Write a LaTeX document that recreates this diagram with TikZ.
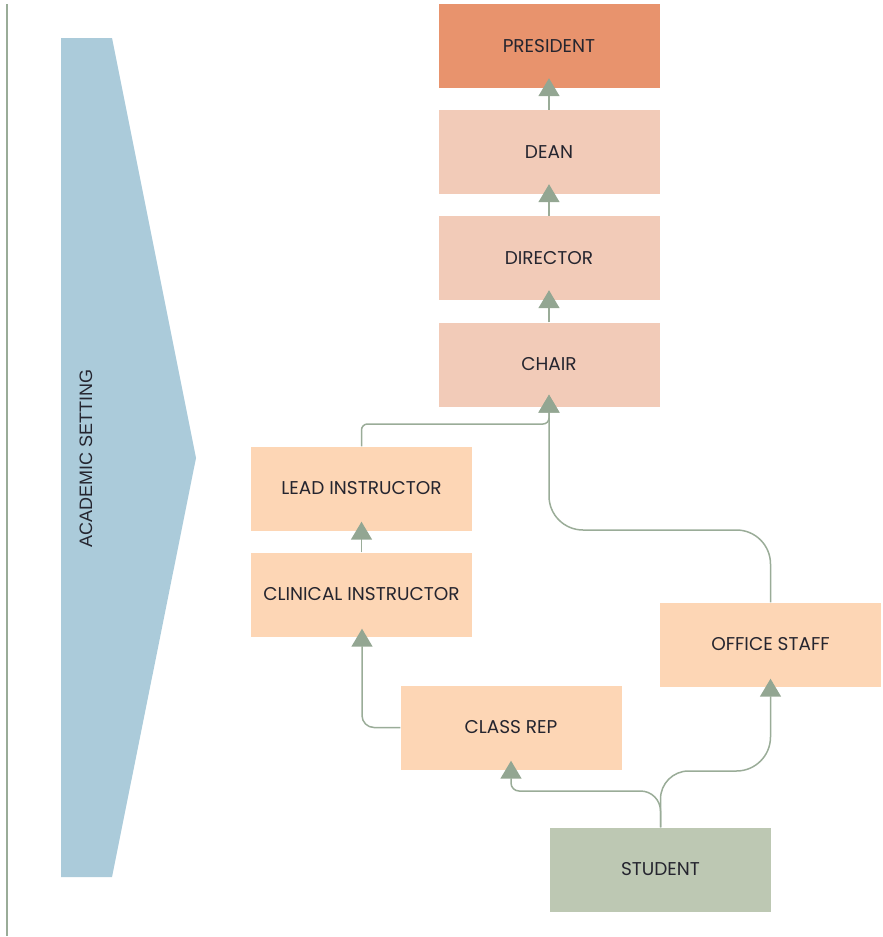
\documentclass[tikz,border=0pt]{standalone}
\usepackage{fontspec}
\setmainfont{Poppins}
\newfontfamily\labelfont{Liberation Sans}
\usetikzlibrary{arrows.meta}

\definecolor{presfill}{HTML}{E8936D}
\definecolor{adminfill}{HTML}{F2CBB8}
\definecolor{stafffill}{HTML}{FDD6B5}
\definecolor{studfill}{HTML}{BDC8B3}
\definecolor{linkcol}{HTML}{9AAC98}
\definecolor{tipcol}{HTML}{93A692}
\definecolor{bandfill}{HTML}{ABCBDA}
\definecolor{inkcol}{HTML}{25252F}

\tikzset{
  rolebox/.style={rectangle, minimum width=221pt, minimum height=84pt,
    inner sep=0pt, text=inkcol, font=\fontsize{18.5}{22}\selectfont},
  topbox/.style={rolebox, fill=presfill},
  adminbox/.style={rolebox, fill=adminfill},
  staffbox/.style={rolebox, fill=stafffill},
  studbox/.style={rolebox, fill=studfill},
  conn/.style={draw=linkcol, line width=1.5pt,
    -{Triangle[width=21pt,length=18pt,color=tipcol]}},
}

\begin{document}
\begin{tikzpicture}[x=1pt,y=-1pt]
  \useasboundingbox (0,0) rectangle (883,937);

  % left rule and the setting banner
  \draw[linkcol, line width=1.5pt] (7,4) -- (7,936);
  \fill[bandfill] (61,38) -- (112,38) -- (196,458) -- (112,877) -- (61,877) -- cycle;
  \node[rotate=90, text=inkcol, font=\labelfont\fontsize{18}{20}\selectfont]
    (setting) at (86,458) {ACADEMIC SETTING};

  % roles
  \node[topbox]   (president) at (549,46)    {PRESIDENT};
  \node[adminbox] (dean)      at (549,152)   {DEAN};
  \node[adminbox] (director)  at (549,258)   {DIRECTOR};
  \node[adminbox] (chair)     at (549,364.5) {CHAIR};
  \node[staffbox] (lead)      at (361.5,488.5) {LEAD INSTRUCTOR};
  \node[staffbox] (clinical)  at (361.5,594.5) {CLINICAL INSTRUCTOR};
  \node[staffbox] (office)    at (770.5,644.5) {OFFICE STAFF};
  \node[staffbox] (classrep)  at (511,727.5)   {CLASS REP};
  \node[studbox]  (student)   at (660.5,869.5) {STUDENT};

  % reporting lines
  \draw[conn] (dean.north) -- ([yshift=10pt]president.south);
  \draw[conn] (director.north) -- ([yshift=10pt]dean.south);
  \draw[conn] (chair.north) -- ([yshift=10pt]director.south);
  \draw[conn] (clinical.north) -- ([yshift=9pt]lead.south);

  \draw[conn, rounded corners=6pt] (lead.north) |- (549,424) -- ([yshift=12pt]chair.south);
  \draw[conn, rounded corners=34pt] (office.north) |- (549,530) -- ([yshift=12pt]chair.south);

  \draw[conn, rounded corners=12pt] (classrep.west) -| ([yshift=8pt]clinical.south -| 362,0);

  \draw[conn, rounded corners=20pt] (student.north) -- (660.5,791)
    [rounded corners=8pt] -| ([yshift=9pt]classrep.south);
  \draw[conn, rounded corners=28pt] (student.north) -- (660.5,771)
    [rounded corners=34pt] -| ([yshift=8pt]office.south);
\end{tikzpicture}
\end{document}
